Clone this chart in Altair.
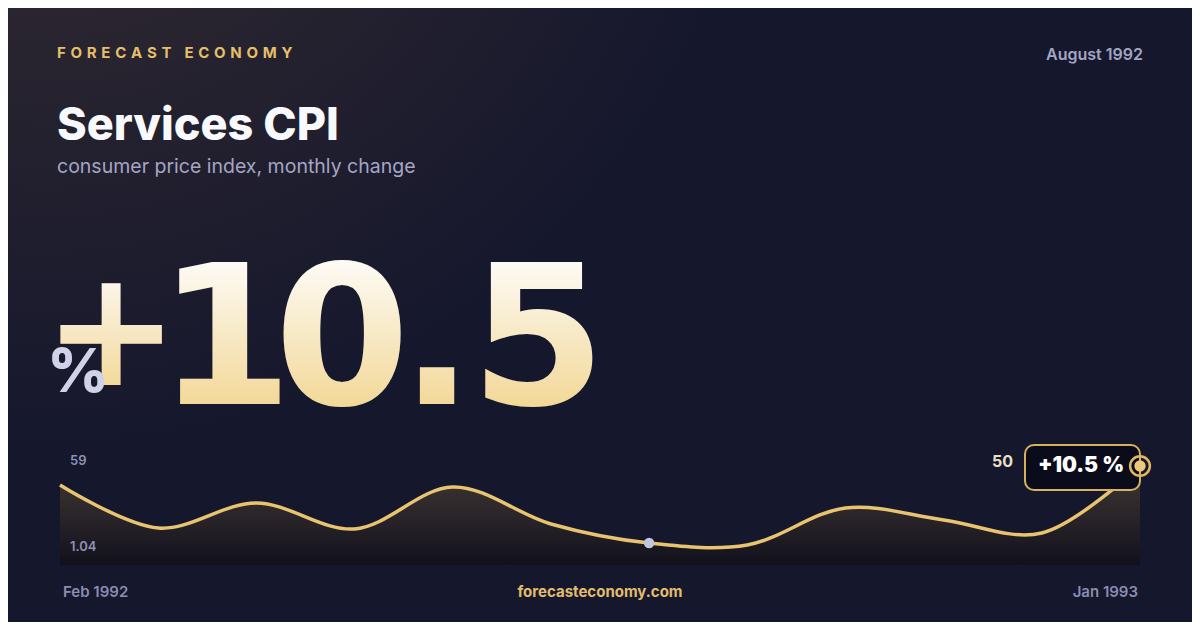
import altair as alt
import pandas as pd

# ---- data ----
months = ["Feb 1992", "Mar 1992", "Apr 1992", "May 1992", "Jun 1992", "Jul 1992",
          "Aug 1992", "Sep 1992", "Oct 1992", "Nov 1992", "Dec 1992", "Jan 1993"]
values = [45.2, 14.1, 32.2, 13.4, 43.8, 17.0, 3.2, 1.8, 28.6, 19.9, 10.5, 59.0]
highlight_month = "Aug 1992"
y_max_label = "59"
y_min_label = "1.04"
y_floor, y_top = -12.7, 59.0
last_label = "50"
headline = "+10.5"
badge = "+10.5 %"

df = pd.DataFrame({"i": list(range(len(months))), "month": months, "v": values})

W, H = 1184, 614
FONT = "Inter"
GOLD = "#e8c470"

xs = alt.Scale(domain=[0, len(months) - 1], range=[52, 1132])
ys = alt.Scale(domain=[y_floor, y_top], range=[557, 458])


def label(text, x, y, size, color, weight=400, align="left", baseline="middle", font=FONT, **kw):
    return alt.Chart(pd.DataFrame({"t": [text]})).mark_text(
        align=align, baseline=baseline, font=font, fontSize=size, fontWeight=weight,
        color=color, **kw
    ).encode(x=alt.value(x), y=alt.value(y), text="t:N")


bg = alt.Chart(pd.DataFrame({"a": [0]})).mark_rect(
    color={"gradient": "radial", "x1": 0.03, "y1": 0.0, "r1": 0.0,
           "x2": 0.03, "y2": 0.0, "r2": 0.62,
           "stops": [{"offset": 0, "color": "#45382b"},
                     {"offset": 0.3, "color": "#2d2730"},
                     {"offset": 1, "color": "#15172d"}]}
).encode(x=alt.value(0), x2=alt.value(W), y=alt.value(0), y2=alt.value(H))

base = alt.Chart(df)
X = alt.X("i:Q", scale=xs, axis=None)
Y = alt.Y("v:Q", scale=ys, axis=None)
area = base.mark_area(
    interpolate="catmull-rom",
    color=alt.Gradient(gradient="linear", x1=0, x2=0, y1=0, y2=1,
                       stops=[alt.GradientStop(color="#403731", offset=0),
                              alt.GradientStop(color="#2a2529", offset=0.5),
                              alt.GradientStop(color="#11101c", offset=1)])
).encode(x=X, y=Y, y2=alt.Y2(datum=y_floor))
line = base.mark_line(interpolate="catmull-rom", color=GOLD, strokeWidth=3.5).encode(x=X, y=Y)

dot = base.transform_filter(alt.datum.month == highlight_month).mark_point(
    filled=True, color="#c3c6de", size=110, opacity=1).encode(x=X, y=Y)

box = alt.Chart(pd.DataFrame({"a": [0]})).mark_rect(
    fill="#0b0c1b", stroke="#d8b05e", strokeWidth=2, cornerRadius=9
).encode(x=alt.value(1017), x2=alt.value(1132), y=alt.value(437), y2=alt.value(482))

last = base.transform_filter(alt.datum.i == len(months) - 1)
ring = last.mark_point(shape="circle", filled=False, color="#e0b860", strokeWidth=2.5,
                       size=390, opacity=1).encode(x=X, y=Y)
core = last.mark_point(shape="circle", filled=True, color="#ecc97a", size=130, opacity=1).encode(x=X, y=Y)

big_grad = {"gradient": "linear", "x1": 0, "x2": 0, "y1": 0, "y2": 1,
            "stops": [{"offset": 0.15, "color": "#fdfcf8"},
                      {"offset": 0.8, "color": "#f3d898"}]}
plus_grad = {"gradient": "linear", "x1": 0, "x2": 0, "y1": 0, "y2": 1,
             "stops": [{"offset": 0.25, "color": "#fbf6ea"},
                       {"offset": 0.82, "color": "#f3d898"}]}
big_font = "DejaVu Sans"
big_layers = [label(headline[0], 103, 377, 162, plus_grad, weight="bold", align="center",
                    baseline="alphabetic", font=big_font)]
for ch, cx in zip(list(headline[1:]), [217, 334, 429, 530]):
    big_layers.append(label(ch, cx, 396, 195, big_grad, weight="bold", align="center",
                            baseline="alphabetic", font=big_font))

sp = "\u2009\u2009"
brand = sp.join(list("FORECAST")) + sp + " " + sp + sp.join(list("ECONOMY"))

texts = [
    label(brand, 49, 45, 15, "#e6bf6a", weight=700),
    label("August 1992", 1135, 47, 16, "#a3a5c2", weight=600, align="right"),
    label("Services CPI", 49, 132, 45, "#f8f9fc", weight=800, baseline="alphabetic"),
    label("consumer price index, monthly change", 49, 165, 19.5, "#a4a6c4", weight=400,
          baseline="alphabetic"),
    label("%", 70, 384, 60, "#cfd2e8", weight=800, align="center", baseline="alphabetic"),
    label(y_max_label, 62, 453, 13, "#8f91b2", weight=600),
    label(y_min_label, 62, 539, 13, "#8f91b2", weight=600),
    label(last_label, 1005, 454, 16, "#ebe0c8", weight=700, align="right"),
    label(badge, 1073, 458, 21, "#ffffff", weight=900, align="center"),
    label(months[0], 55, 584, 15, "#8b8dae", weight=600),
    label("forecasteconomy.com", 592, 584, 15, "#e3bd6b", weight=700, align="center"),
    label(months[-1], 1130, 584, 15, "#8b8dae", weight=600, align="right"),
]

chart = alt.layer(
    bg, area, line, dot, *big_layers, texts[4], box, ring, core,
    *[t for k, t in enumerate(texts) if k != 4]
).properties(
    width=W, height=H, padding=0, background="#15172d",
    autosize=alt.AutoSizeParams(type="none")
).configure_view(stroke=None)

chart.save("out.html", embed_options={"renderer": "svg", "actions": False})
